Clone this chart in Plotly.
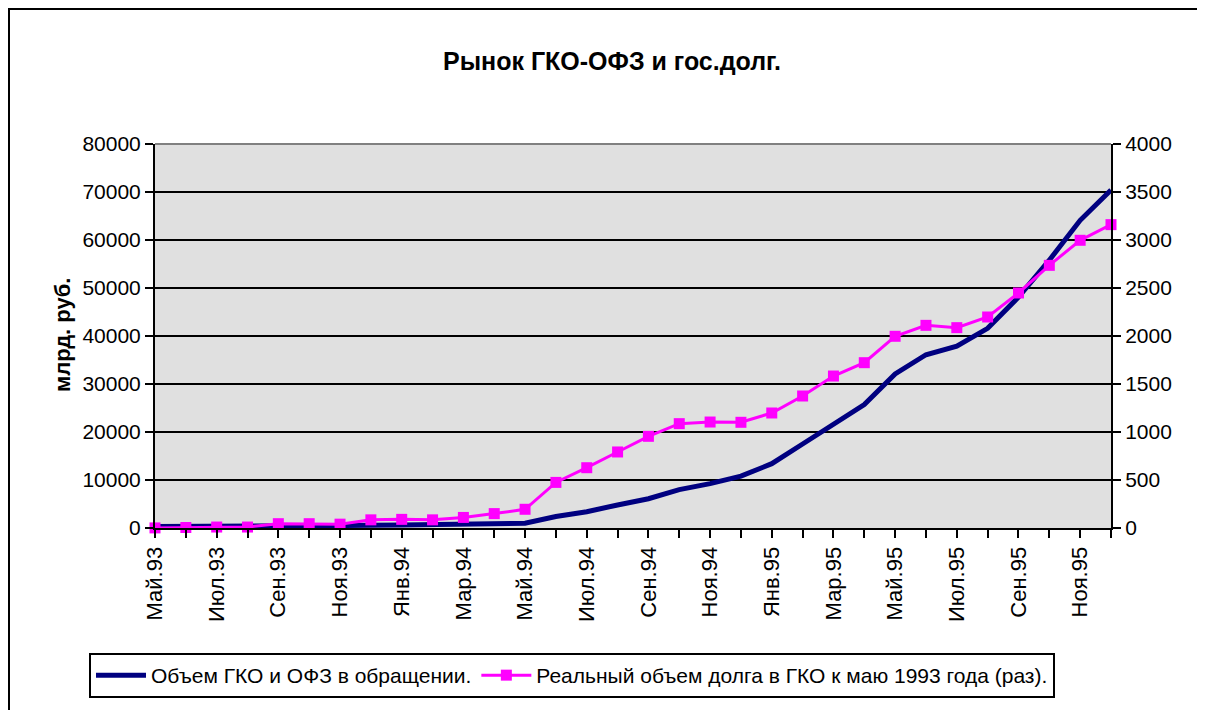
import plotly.graph_objects as go

months = ["Май.93", "Июн.93", "Июл.93", "Авг.93", "Сен.93", "Окт.93", "Ноя.93", "Дек.93",
          "Янв.94", "Фев.94", "Мар.94", "Апр.94", "Май.94", "Июн.94", "Июл.94", "Авг.94",
          "Сен.94", "Окт.94", "Ноя.94", "Дек.94", "Янв.95", "Фев.95", "Мар.95", "Апр.95",
          "Май.95", "Июн.95", "Июл.95", "Авг.95", "Сен.95", "Окт.95", "Ноя.95", "Дек.95"]

volume = [300, 300, 300, 300, 300, 300, 300, 550, 650, 700, 750, 800, 1000, 2400,
          3400, 4800, 6100, 8000, 9250, 10800, 13400, 17500, 21700, 25700,
          32100, 36100, 37900, 41600, 48100, 55800, 64100, 70400]

real_debt = [1, 5, 10, 10, 45, 45, 40, 85, 90, 85, 110, 150, 195, 475,
             628, 792, 955, 1087, 1104, 1101, 1198, 1375, 1583, 1722,
             1997, 2111, 2087, 2198, 2448, 2736, 2997, 3160]

tick_labels = months[::2]

name_vol = "Объем ГКО и ОФЗ в обращении."
name_real = "Реальный объем долга в ГКО к маю 1993 года (раз)."
title_text = "Рынок ГКО-ОФЗ и гос.долг."
ytitle = "млрд. руб."

x_idx = list(range(len(months)))

OFF = 8  # page body margin
W, H = 1205 - OFF, 710 - OFF
L, R, T, B = 155 - OFF, 94, 144 - OFF, 182
pw, ph = W - L - R, H - T - B

def px(xr):
    return (xr - OFF - L) / pw

def py(yr):
    return (H - B - (yr - OFF)) / ph

FONT = "Liberation Sans, Arial, sans-serif"

fig = go.Figure()
fig.add_trace(go.Scatter(
    x=x_idx, y=volume, name=name_vol, mode="lines",
    line=dict(color="#000080", width=5), cliponaxis=False,
))
fig.add_trace(go.Scatter(
    x=x_idx, y=real_debt, name=name_real, mode="lines+markers", yaxis="y2",
    line=dict(color="#FF00FF", width=3),
    marker=dict(symbol="square", size=11, color="#FF00FF"),
    cliponaxis=False,
))

fig.update_layout(
    width=W, height=H,
    margin=dict(l=L, r=R, t=T, b=B),
    paper_bgcolor="white",
    plot_bgcolor="#E0E0E0",
    font=dict(family=FONT, color="black", size=21),
    title=dict(text="<b>" + title_text + "</b>", x=(612 - OFF) / W, xanchor="center",
               y=1 - (61 - OFF) / H, yanchor="middle", yref="container",
               font=dict(family=FONT, size=25, color="black")),
    xaxis=dict(
        range=[0, 31], tickmode="array", tickvals=x_idx[::2], ticktext=tick_labels,
        tickangle=-90, ticks="outside", ticklen=8, tickwidth=2, tickcolor="black",
        showline=True, linecolor="black", linewidth=2, showgrid=False, zeroline=False,
        tickfont=dict(size=22),
        minor=dict(tickmode="array", tickvals=x_idx, ticks="outside", ticklen=8,
                   tickwidth=2, tickcolor="black", showgrid=False),
    ),
    yaxis=dict(
        range=[0, 80000], dtick=10000, tickformat="d",
        ticks="outside", ticklen=8, tickwidth=2, tickcolor="black",
        showline=True, linecolor="black", linewidth=2,
        showgrid=True, gridcolor="black", gridwidth=2, zeroline=False,
        tickfont=dict(size=21),
    ),
    yaxis2=dict(
        range=[0, 4000], dtick=500, overlaying="y", side="right",
        ticks="outside", ticklen=8, tickwidth=2, tickcolor="black",
        showline=True, linecolor="black", linewidth=2, showgrid=False, zeroline=False,
        tickfont=dict(size=21),
    ),
    legend=dict(
        orientation="h", x=px(89), xanchor="left", y=py(653), yanchor="top",
        bordercolor="black", borderwidth=2, bgcolor="white",
        font=dict(size=21), itemwidth=50,
    ),
    showlegend=True,
)

fig.add_annotation(
    text="<b>" + ytitle + "</b>", textangle=-90, x=px(62), y=py(335),
    xref="paper", yref="paper", xanchor="center", yanchor="middle",
    showarrow=False, font=dict(size=22),
)

# top border of the plot area (grey)
fig.add_shape(type="line", xref="paper", yref="paper", x0=0, x1=1, y0=1, y1=1,
              line=dict(color="#808080", width=2), layer="above")
# outer chart frame
fig.add_shape(type="rect", xref="paper", yref="paper",
              x0=px(9), x1=px(1225), y0=py(730), y1=py(9),
              line=dict(color="black", width=2), layer="below")

fig.write_html("out.html")
